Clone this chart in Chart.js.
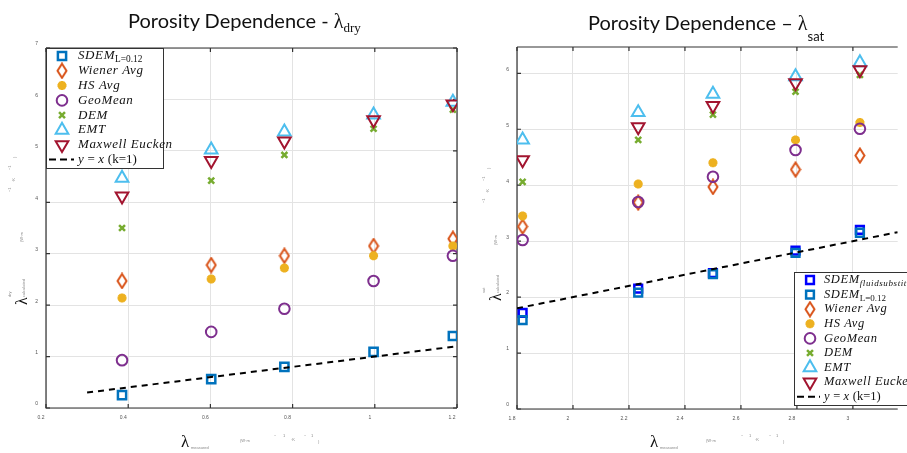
<!DOCTYPE html>
<html lang="en">
<head>
<meta charset="UTF-8">
<title>Porosity Dependence</title>
<script src="https://cdn.jsdelivr.net/npm/chart.js"></script>
<style>
  body { margin: 0; background: #fff; width: 907px; height: 453px; position: relative; overflow: hidden; font-family: Lato, sans-serif; }
  canvas { position: absolute; top: 0; }
  #dryCanvas { left: 0; }
  #satCanvas { left: 470px; }
  .title { position: absolute; font-size: 20px; line-height: 20px; color: #111; white-space: nowrap; }
  .serif { font-family: "Liberation Serif", serif; }
  .tiny { position: absolute; font-size: 4px; line-height: 4px; color: #888; font-family: Arial, sans-serif; white-space: nowrap; }
  .lam { position: absolute; font-family: "Liberation Serif", serif; font-size: 17px; line-height: 17px; color: #111; }
  .ytitle { position: absolute; width: 200px; height: 20px; transform-origin: 0 0; transform: rotate(-90deg); }
</style>
</head>
<body>
<canvas id="dryCanvas" width="470" height="453"></canvas>
<canvas id="satCanvas" width="437" height="453"></canvas>

<!-- titles -->
<div class="title" style="left:128px; top:10px;">Porosity Dependence - <span class="serif">λ</span><span class="serif" style="font-size:13px; position:relative; top:4px;">dry</span></div>
<div class="title" style="left:588px; top:12px;">Porosity Dependence – <span class="serif">λ</span><span style="font-size:13px; position:relative; top:11px;">sat</span></div>

<!-- x axis titles -->
<span class="lam" style="left:181px; top:433px;">λ</span>
<span class="tiny" style="left:191px; top:446px;">measured</span>
<span class="tiny" style="left:240px; top:439px;">(W·m</span>
<span class="tiny" style="left:274px; top:434px;">−</span>
<span class="tiny" style="left:283px; top:434px;">1</span>
<span class="tiny" style="left:291px; top:438px;">·K</span>
<span class="tiny" style="left:304px; top:434px;">−</span>
<span class="tiny" style="left:311px; top:434px;">1</span>
<span class="tiny" style="left:318px; top:440px;">)</span>

<span class="lam" style="left:650px; top:433px;">λ</span>
<span class="tiny" style="left:660px; top:446px;">measured</span>
<span class="tiny" style="left:706px; top:439px;">(W·m</span>
<span class="tiny" style="left:741px; top:434px;">−</span>
<span class="tiny" style="left:749px; top:434px;">1</span>
<span class="tiny" style="left:755px; top:438px;">·K</span>
<span class="tiny" style="left:769px; top:434px;">−</span>
<span class="tiny" style="left:776px; top:434px;">1</span>
<span class="tiny" style="left:783px; top:440px;">)</span>

<!-- y axis titles -->
<div class="ytitle" style="left:13px; top:310px;">
  <span class="lam" style="left:5px; top:0px; font-size:16px;">λ</span>
  <span class="tiny" style="left:13px; top:-5px;">dry</span>
  <span class="tiny" style="left:13px; top:9px;">calculated</span>
  <span class="tiny" style="left:68px; top:7px;">(W·m</span>
  <span class="tiny" style="left:118px; top:-5px;">−1</span>
  <span class="tiny" style="left:128px; top:-1px;">·K</span>
  <span class="tiny" style="left:140px; top:-5px;">−1</span>
  <span class="tiny" style="left:152px; top:0px;">)</span>
</div>
<div class="ytitle" style="left:487px; top:303px;">
  <span class="lam" style="left:2px; top:0px; font-size:16px;">λ</span>
  <span class="tiny" style="left:10px; top:-5px;">sat</span>
  <span class="tiny" style="left:10px; top:9px;">calculated</span>
  <span class="tiny" style="left:58px; top:7px;">(W·m</span>
  <span class="tiny" style="left:100px; top:-5px;">−1</span>
  <span class="tiny" style="left:110px; top:-1px;">·K</span>
  <span class="tiny" style="left:122px; top:-5px;">−1</span>
  <span class="tiny" style="left:134px; top:0px;">)</span>
</div>

<script>
// ---- dry samples (left chart) ----
const dryX = [0.385, 0.602, 0.78, 0.997, 1.19];
const drySDEM = [0.25, 0.56, 0.80, 1.09, 1.40];
const dryWiener = [2.47, 2.78, 2.96, 3.15, 3.29];
const dryHS = [2.14, 2.51, 2.72, 2.96, 3.15];
const dryGeoMean = [0.93, 1.48, 1.93, 2.47, 2.96];
const dryDEM = [3.50, 4.42, 4.92, 5.43, 5.80];
const dryEMT = [4.47, 5.02, 5.37, 5.70, 5.95];
const dryMaxwell = [4.12, 4.81, 5.19, 5.60, 5.91];
const dryLine = [0.3, 1.2];

// ---- saturated samples (right chart) ----
const satX = [1.82, 2.233, 2.50, 2.795, 3.025];
const satSDEMFluid = [1.72, 2.15, 2.43, 2.83, 3.20];
const satSDEM = [1.59, 2.08, 2.41, 2.79, 3.15];
const satWiener = [3.26, 3.69, 3.97, 4.28, 4.53];
const satHS = [3.45, 4.02, 4.40, 4.81, 5.12];
const satGeoMean = [3.02, 3.70, 4.15, 4.63, 5.01];
const satDEM = [4.06, 4.81, 5.26, 5.67, 5.97];
const satEMT = [4.81, 5.30, 5.63, 5.94, 6.19];
const satMaxwell = [4.45, 5.04, 5.42, 5.83, 6.06];
const satLine = [1.8, 3.16];

const C = {
  sdem: '#0072BD', fluid: '#0000FF', wiener: '#D95319', hs: '#EDB120',
  geo: '#7E2F8E', dem: '#77AC30', emt: '#4DBEEE', maxwell: '#A2142F'
};

// tall MATLAB-like diamond
const diamond = (() => {
  const c = document.createElement('canvas');
  c.width = 12; c.height = 17;
  const g = c.getContext('2d');
  g.strokeStyle = C.wiener; g.lineWidth = 2;
  g.beginPath();
  g.moveTo(6, 1.5); g.lineTo(10.5, 8.5); g.lineTo(6, 15.5); g.lineTo(1.5, 8.5);
  g.closePath(); g.stroke();
  return c;
})();

function pts(xs, ys) { return xs.map((x, i) => ({ x: x, y: ys[i] })); }

function markers(parts, xs, ys, color, style, radius, bw, rotation) {
  return {
    legendParts: parts,
    data: pts(xs, ys),
    pointStyle: style,
    radius: radius,
    hoverRadius: radius,
    rotation: rotation || 0,
    borderColor: color,
    backgroundColor: 'rgba(0,0,0,0)',
    borderWidth: bw,
    hoverBorderWidth: bw
  };
}

function refLine(ends) {
  return {
    legendParts: [{ t: 'y', it: 1 }, { t: ' = ', it: 0 }, { t: 'x', it: 1 }, { t: ' (k=1)', it: 0 }],
    isLine: true,
    data: pts(ends, ends),
    showLine: true,
    borderColor: '#000',
    borderWidth: 2,
    borderDash: [6, 5],
    pointRadius: 0
  };
}

const L_SDEM = [{ t: 'SDEM', it: 1 }, { t: 'L=0.12', sub: 1 }];
const L_FLUID = [{ t: 'SDEM', it: 1 }, { t: 'fluidsubstitution', it: 1, sub: 1 }];
const L_WIENER = [{ t: 'Wiener Avg', it: 1 }];
const L_HS = [{ t: 'HS Avg', it: 1 }];
const L_GEO = [{ t: 'GeoMean', it: 1 }];
const L_DEM = [{ t: 'DEM', it: 1 }];
const L_EMT = [{ t: 'EMT', it: 1 }];
const L_MAX = [{ t: 'Maxwell Eucken', it: 1 }];

// axes box with inward ticks
const framePlugin = {
  id: 'frame',
  beforeDatasetsDraw(chart, args, opts) {
    const { ctx, chartArea: a } = chart;
    const xs = chart.scales.x, ys = chart.scales.y;
    ctx.save();
    ctx.strokeStyle = '#333';
    ctx.lineWidth = 1.2;
    ctx.beginPath();
    ctx.moveTo(a.left, a.top); ctx.lineTo(a.left, a.bottom); ctx.lineTo(a.right, a.bottom);
    ctx.moveTo(a.left, a.top); ctx.lineTo(a.right, a.top);
    if (opts.right) { ctx.moveTo(a.right, a.top); ctx.lineTo(a.right, a.bottom); }
    ctx.stroke();
    ctx.beginPath();
    xs.ticks.forEach(t => {
      const p = xs.getPixelForValue(t.value);
      ctx.moveTo(p, a.bottom); ctx.lineTo(p, a.bottom - 4);
      ctx.moveTo(p, a.top); ctx.lineTo(p, a.top + 4);
    });
    ys.ticks.forEach(t => {
      const p = ys.getPixelForValue(t.value);
      ctx.moveTo(a.left, p); ctx.lineTo(a.left + 4, p);
      if (opts.right) { ctx.moveTo(a.right, p); ctx.lineTo(a.right - 4, p); }
    });
    ctx.stroke();
    ctx.restore();
  }
};

function drawRich(ctx, parts, x, y, size) {
  parts.forEach(p => {
    const fs = p.sub ? size * 0.72 : size;
    ctx.font = (p.it ? 'italic ' : '') + fs + 'px "Liberation Serif", serif';
    ctx.letterSpacing = p.it ? '0.6px' : '0px';
    ctx.fillText(p.t, x, y + (p.sub ? size * 0.3 : 0));
    x += ctx.measureText(p.t).width;
  });
  ctx.letterSpacing = '0px';
}

// legend box drawn inside the plot
const boxLegend = {
  id: 'boxLegend',
  afterDraw(chart, args, o) {
    const ctx = chart.ctx;
    ctx.save();
    ctx.fillStyle = '#fff';
    ctx.fillRect(o.x, o.y, o.w, o.h);
    ctx.strokeStyle = '#333';
    ctx.lineWidth = 1;
    ctx.strokeRect(o.x + 0.5, o.y + 0.5, o.w, o.h);
    chart.data.datasets.forEach((ds, i) => {
      const y = o.row0 + i * o.rowH;
      if (ds.isLine) {
        ctx.strokeStyle = '#000';
        ctx.lineWidth = 2;
        ctx.setLineDash([7, 4]);
        ctx.beginPath();
        ctx.moveTo(o.x + 3, y); ctx.lineTo(o.textX - 4, y);
        ctx.stroke();
        ctx.setLineDash([]);
      } else {
        ctx.strokeStyle = ds.borderColor;
        ctx.fillStyle = 'rgba(0,0,0,0)';
        ctx.lineWidth = ds.borderWidth;
        Chart.helpers.drawPoint(ctx, {
          pointStyle: ds.pointStyle, rotation: ds.rotation,
          radius: ds.radius, borderWidth: ds.borderWidth
        }, o.markX, y);
      }
      ctx.fillStyle = '#111';
      ctx.textBaseline = 'middle';
      drawRich(ctx, ds.legendParts, o.textX, y, o.size);
    });
    ctx.restore();
  }
};

function tickLabel(v) { return String(+v.toFixed(2)); }

function scales(xmin, xmax, ymax, yWidth, xHeight) {
  const tickFont = { size: 5, family: 'Arial' };
  return {
    x: {
      type: 'linear', min: xmin, max: xmax,
      afterFit: s => { s.height = xHeight; },
      grid: { color: '#e3e3e3', tickLength: 0 },
      border: { display: false },
      ticks: { stepSize: 0.2, includeBounds: false, font: tickFont, color: '#555', padding: 7, labelOffset: -5, maxRotation: 0, callback: tickLabel }
    },
    y: {
      type: 'linear', min: 0, max: ymax,
      afterFit: s => { s.width = yWidth; },
      grid: { color: '#e3e3e3', tickLength: 0 },
      border: { display: false },
      ticks: { stepSize: 1, includeBounds: false, font: tickFont, color: '#555', padding: 8, labelOffset: -4, callback: tickLabel }
    }
  };
}

function withOrder(list) {
  list.forEach((d, i) => { d.order = -i; });
  return list;
}

new Chart(document.getElementById('dryCanvas'), {
  type: 'scatter',
  data: {
    datasets: withOrder([
      markers(L_SDEM, dryX, drySDEM, C.sdem, 'rect', 5.8, 2.5),
      markers(L_WIENER, dryX, dryWiener, C.wiener, diamond, 6, 2),
      markers(L_HS, dryX, dryHS, C.hs, 'star', 4.5, 3),
      markers(L_GEO, dryX, dryGeoMean, C.geo, 'circle', 5.3, 2),
      markers(L_DEM, dryX, dryDEM, C.dem, 'crossRot', 4.2, 2.5),
      markers(L_EMT, dryX, dryEMT, C.emt, 'triangle', 7.3, 2),
      markers(L_MAX, dryX, dryMaxwell, C.maxwell, 'triangle', 7.3, 2, 180),
      refLine(dryLine)
    ])
  },
  options: {
    responsive: false,
    animation: false,
    layout: { padding: { top: 48, right: 13, left: 0, bottom: 0 } },
    scales: scales(0.2, 1.2, 7, 46, 45),
    plugins: {
      legend: { display: false },
      tooltip: { enabled: false },
      frame: { right: true },
      boxLegend: { x: 46, y: 48, w: 117, h: 120, row0: 56, rowH: 14.8, markX: 62, textX: 78, size: 13 }
    }
  },
  plugins: [framePlugin, boxLegend]
});

new Chart(document.getElementById('satCanvas'), {
  type: 'scatter',
  data: {
    datasets: withOrder([
      markers(L_FLUID, satX, satSDEMFluid, C.fluid, 'rect', 5.5, 2.5),
      markers(L_SDEM, satX, satSDEM, C.sdem, 'rect', 5.5, 2.5),
      markers(L_WIENER, satX, satWiener, C.wiener, diamond, 6, 2),
      markers(L_HS, satX, satHS, C.hs, 'star', 4.5, 3),
      markers(L_GEO, satX, satGeoMean, C.geo, 'circle', 5.3, 2),
      markers(L_DEM, satX, satDEM, C.dem, 'crossRot', 4.2, 2.5),
      markers(L_EMT, satX, satEMT, C.emt, 'triangle', 7.3, 2),
      markers(L_MAX, satX, satMaxwell, C.maxwell, 'triangle', 7.3, 2, 180),
      refLine(satLine)
    ])
  },
  options: {
    responsive: false,
    animation: false,
    layout: { padding: { top: 47, right: 0, left: 0, bottom: 0 } },
    scales: scales(1.8, 3.16, 6.47, 47, 44),
    plugins: {
      legend: { display: false },
      tooltip: { enabled: false },
      frame: { right: false },
      boxLegend: { x: 324, y: 272, w: 140, h: 133, row0: 280, rowH: 14.6, markX: 340, textX: 354, size: 12.5 }
    }
  },
  plugins: [framePlugin, boxLegend]
});
</script>
</body>
</html>
